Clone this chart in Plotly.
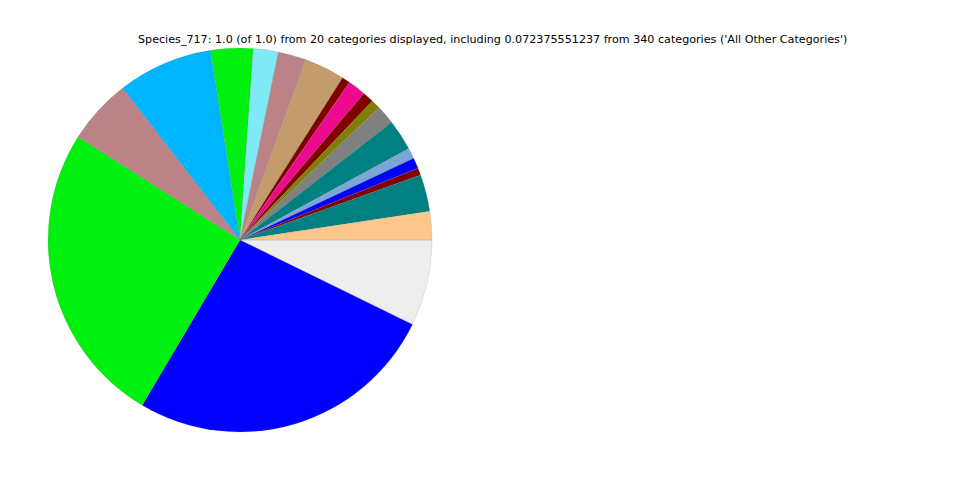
import plotly.graph_objects as go

labels = ["All Other Categories", "Category 1", "Category 2", "Category 3", "Category 4",
          "Category 5", "Category 6", "Category 7", "Category 8", "Category 9",
          "Category 10", "Category 11", "Category 12", "Category 13", "Category 14",
          "Category 15", "Category 16", "Category 17", "Category 18", "Category 19"]
values = [0.072375551237, 0.2625, 0.255, 0.055, 0.080,
          0.0356, 0.021, 0.0236, 0.034, 0.007,
          0.015, 0.0094, 0.0078, 0.016, 0.026,
          0.009, 0.009, 0.006, 0.031, 0.024]
colors = ["#eeeeee", "#0000ff", "#00f010", "#bb8288", "#00b5ff",
          "#00f010", "#7feaf5", "#bb8288", "#c49c6b", "#800000",
          "#ee0a8f", "#800000", "#808000", "#808080", "#008080",
          "#7ba7d8", "#0000ff", "#800000", "#008080", "#fdc68a"]
title = "Species_717: 1.0 (of 1.0) from 20 categories displayed, including 0.072375551237 from 340 categories ('All Other Categories')"

fig = go.Figure(go.Pie(
    labels=labels, values=values, sort=False, direction="clockwise", rotation=90,
    marker=dict(colors=colors, line=dict(color="rgba(120,120,120,0.35)", width=0.5)),
    textinfo="none", hoverinfo="label+value", showlegend=False,
    domain=dict(x=[40/960, 424/960], y=[56/480, 440/480]),
))
fig.update_layout(
    width=960, height=480, margin=dict(l=0, r=0, t=0, b=0),
    paper_bgcolor="white", plot_bgcolor="white",
    annotations=[dict(text=title, x=484/960, y=1-32/480, xref="paper", yref="paper",
                      xanchor="center", yanchor="middle", showarrow=False,
                      font=dict(family="DejaVu Sans", size=11.15, color="black"))],
)
fig.write_html("out.html")
